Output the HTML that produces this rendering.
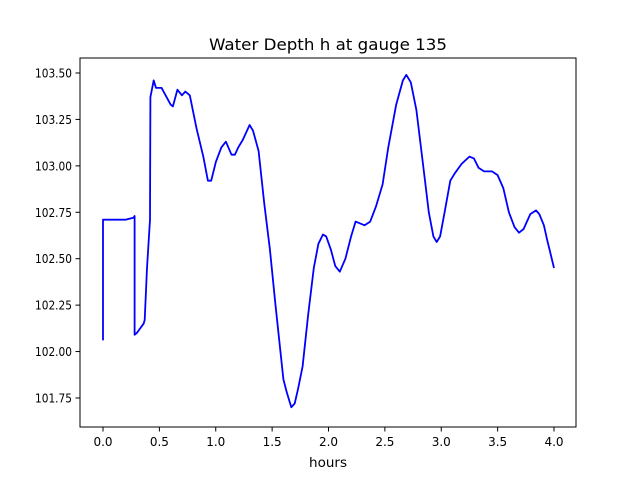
<!DOCTYPE html>
<html><head><meta charset="utf-8"><style>body{margin:0;background:#fff}svg{display:block;font-family:"DejaVu Sans","Liberation Sans",sans-serif}</style></head>
<body>
<svg id="c" width="640" height="480"></svg>
<script>
const hours=[0,0,0.2,0.27,0.28,0.28,0.3,0.36,0.37,0.39,0.417,0.42,0.43,0.45,0.47,0.52,0.6,0.62,0.66,0.7,0.73,0.77,0.83,0.89,0.93,0.96,1.0,1.05,1.09,1.14,1.17,1.2,1.24,1.3,1.33,1.38,1.43,1.48,1.53,1.6,1.63,1.67,1.7,1.73,1.77,1.82,1.87,1.91,1.95,1.98,2.02,2.06,2.1,2.15,2.2,2.24,2.28,2.32,2.37,2.42,2.48,2.53,2.6,2.66,2.69,2.73,2.78,2.84,2.89,2.93,2.96,2.99,3.03,3.08,3.12,3.18,3.25,3.29,3.33,3.38,3.45,3.5,3.55,3.6,3.65,3.69,3.73,3.79,3.84,3.87,3.91,3.94,3.96,4.0];
const depth=[102.06,102.71,102.71,102.72,102.73,102.09,102.10,102.15,102.17,102.45,102.71,103.37,103.40,103.46,103.42,103.42,103.33,103.32,103.41,103.38,103.40,103.38,103.2,103.05,102.92,102.92,103.02,103.10,103.13,103.06,103.06,103.10,103.14,103.22,103.19,103.08,102.8,102.55,102.25,101.85,101.78,101.70,101.72,101.80,101.92,102.2,102.45,102.58,102.63,102.62,102.55,102.46,102.43,102.50,102.62,102.70,102.69,102.68,102.70,102.78,102.90,103.1,103.33,103.46,103.49,103.45,103.3,103.0,102.75,102.62,102.59,102.62,102.75,102.92,102.96,103.01,103.05,103.04,102.99,102.97,102.97,102.95,102.88,102.75,102.67,102.64,102.66,102.74,102.76,102.74,102.68,102.6,102.55,102.45];
const xTicks=[0,0.5,1,1.5,2,2.5,3,3.5,4];
const yTicks=[101.75,102,102.25,102.5,102.75,103,103.25,103.5];
const L=80,R=576,T=58,B=427;
const xs=v=>103+v*112.75;
const ys=v=>73+(103.5-v)*185.7;
const s=document.getElementById('c');const NS='http://www.w3.org/2000/svg';
function mk(t,a,p){const e=document.createElementNS(NS,t);for(const k in a)e.setAttribute(k,a[k]);(p||s).appendChild(e);return e;}
let d='';hours.forEach((h,i)=>{d+=(i?'L':'M')+xs(h).toFixed(1)+','+ys(depth[i]).toFixed(1);});
const ln=mk('path',{d:d,fill:'none',stroke:'#0000ff','stroke-width':1.8,'stroke-linejoin':'round'});

const fr=mk('rect',{x:L,y:T,width:R-L,height:B-T,fill:'none',stroke:'#000','stroke-width':1});

xTicks.forEach(v=>{const x=xs(v);mk('line',{x1:x,x2:x,y1:B,y2:B+4.5,stroke:'#000','stroke-width':1});
const t=mk('text',{x:x,y:B+19,'font-size':12,'text-anchor':'middle'});t.textContent=v.toFixed(1);
});
yTicks.forEach(v=>{const y=ys(v);mk('line',{x1:L-4.5,x2:L,y1:y,y2:y,stroke:'#000','stroke-width':1});
const t=mk('text',{x:L-8,y:y+4.5,'font-size':12,'text-anchor':'end',textLength:37,lengthAdjust:'spacingAndGlyphs'});t.textContent=v.toFixed(2);
});
const xt=mk('text',{x:328,y:467,'font-size':13,'text-anchor':'middle',textLength:38,lengthAdjust:'spacingAndGlyphs'});xt.textContent='hours';

const tt=mk('text',{x:328,y:50,'font-size':16,'text-anchor':'middle',textLength:238,lengthAdjust:'spacingAndGlyphs'});tt.textContent='Water Depth h at gauge 135';

</script>
</body></html>
